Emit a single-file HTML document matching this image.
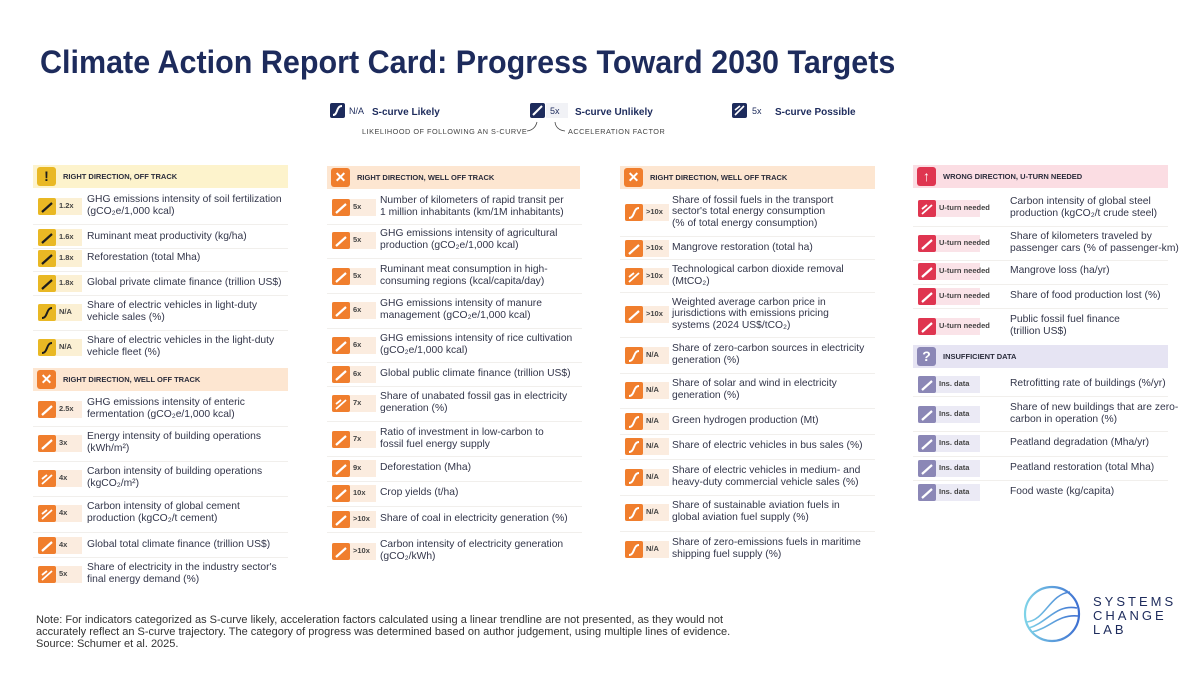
<!DOCTYPE html>
<html><head><meta charset="utf-8"><style>
html,body{margin:0;padding:0;background:#fff;}
#root{position:relative;width:1200px;height:675px;overflow:hidden;background:#fff;font-family:"Liberation Sans",sans-serif;color:#2b2d3c;}
.abs{position:absolute;}
.title{left:40px;top:44px;font-size:32px;font-weight:bold;color:#1d2b5c;white-space:nowrap;transform-origin:0 0;}
.hdr{position:absolute;height:23px;}
.hdr .t{position:absolute;left:30px;top:7px;font-size:7.5px;font-weight:bold;color:#2b2d3c;}
.hdr .ic{position:absolute;left:4px;top:2px;width:19px;height:19px;border-radius:3px;color:#fff;font-weight:bold;font-size:14px;text-align:center;line-height:19px;}
.row{position:absolute;}
.row .txt{position:absolute;font-size:10.3px;line-height:11.6px;color:#33364a;white-space:nowrap;}
.row .bg{position:absolute;height:14px;}
.row .val{position:absolute;font-size:7.5px;font-weight:bold;color:#444;white-space:nowrap;}
.sep{position:absolute;height:1px;background:#f1efec;}
.note{left:36px;top:614px;font-size:11px;line-height:12px;color:#333;white-space:nowrap;}
</style></head><body>
<div id="root">
<div class="abs title" id="title">Climate Action Report Card: Progress Toward 2030 Targets</div>

<svg class="abs" style="left:0;top:0" width="1200" height="160">
<g>
<rect x="330" y="103" width="15" height="15" rx="2" fill="#1d2b5c"/><path d="M333 115 C338 115 336 106 342 106" stroke="#fff" stroke-width="2" fill="none"/>
<text x="349" y="114" font-size="9" fill="#1d2b5c">N/A</text>
<text x="372" y="115" font-size="10" font-weight="bold" fill="#1d2b5c">S-curve Likely</text></g>
<g>
<rect x="530" y="103" width="15" height="15" rx="2" fill="#1d2b5c"/><path d="M533 115 L542 106" stroke="#fff" stroke-width="2"/>
<rect x="546" y="103" width="22" height="15" fill="#f1f2f6"/>
<text x="550" y="114" font-size="9" fill="#1d2b5c">5x</text>
<text x="575" y="115" font-size="10" font-weight="bold" fill="#1d2b5c">S-curve Unlikely</text></g>
<g>
<rect x="732" y="103" width="15" height="15" rx="2" fill="#1d2b5c"/><path d="M735 115 L744 106 M735 110 L740 106" stroke="#fff" stroke-width="1.6"/>
<text x="752" y="114" font-size="9" fill="#1d2b5c">5x</text>
<text x="775" y="115" font-size="10" font-weight="bold" fill="#1d2b5c">S-curve Possible</text></g>
<text x="362" y="134" font-size="7.3" fill="#444" letter-spacing="0.5">LIKELIHOOD OF FOLLOWING AN S-CURVE</text>
<path d="M527 131 Q535 130 537 122" stroke="#444" fill="none" stroke-width="0.8"/>
<path d="M565 131 Q556 130 555 122" stroke="#444" fill="none" stroke-width="0.8"/>
<text x="568" y="134" font-size="7.3" fill="#444" letter-spacing="0.5">ACCELERATION FACTOR</text>
</svg>

<div class="abs note">Note: For indicators categorized as S-curve likely, acceleration factors calculated using a linear trendline are not presented, as they would not<br>accurately reflect an S-curve trajectory. The category of progress was determined based on author judgement, using multiple lines of evidence.<br>Source: Schumer et al. 2025.</div>

<svg class="abs" style="left:1020px;top:582px" width="160" height="66">
<defs><linearGradient id="lg" x1="0" x2="1"><stop offset="0" stop-color="#7fd3e8"/><stop offset="1" stop-color="#3d6fd1"/></linearGradient></defs>
<circle cx="32" cy="32" r="27" fill="none" stroke="url(#lg)" stroke-width="2.2"/>
<path d="M7 40 C25 38 30 12 50 10 M9 46 C28 40 36 22 57 26 M12 50 C30 46 38 32 58 34" stroke="url(#lg)" stroke-width="1.6" fill="none"/>
<text x="73" y="24" font-size="13" letter-spacing="3" fill="#1d2b5c">SYSTEMS</text>
<text x="73" y="38" font-size="13" letter-spacing="3" fill="#1d2b5c">CHANGE</text>
<text x="73" y="52" font-size="13" letter-spacing="3" fill="#1d2b5c">LAB</text>
</svg>
</div>
<script>
// Category headers: [x, y, width, label, type]
const headers = [
 [33,165,255,"RIGHT DIRECTION, OFF TRACK","off"],
 [33,368,255,"RIGHT DIRECTION, WELL OFF TRACK","well"],
 [327,166,253,"RIGHT DIRECTION, WELL OFF TRACK","well"],
 [620,166,255,"RIGHT DIRECTION, WELL OFF TRACK","well"],
 [913,165,255,"WRONG DIRECTION, U-TURN NEEDED","wrong"],
 [913,345,255,"INSUFFICIENT DATA","ins"]
];
// Indicator columns
const col1 = [
 [206,"1.2x","off","u",["GHG emissions intensity of soil fertilization","(gCO\u2082e/1,000 kcal)"]],
 [237,"1.6x","off","u",["Ruminant meat productivity (kg/ha)"]],
 [258,"1.8x","off","u",[" Reforestation (total Mha)"]],
 [283,"1.8x","off","u",["Global private climate finance (trillion US$)"]],
 [312,"N/A","off","s",["Share of electric vehicles in light-duty","vehicle sales (%)"]],
 [347,"N/A","off","s",["Share of electric vehicles in the light-duty","vehicle fleet (%)"]],
 [409,"2.5x","well","u",["GHG emissions intensity of enteric","fermentation  (gCO\u2082e/1,000 kcal)"]],
 [443,"3x","well","u",["Energy intensity of building operations","(kWh/m\u00b2)"]],
 [478,"4x","well","p",["Carbon intensity of building operations","(kgCO\u2082/m\u00b2)"]],
 [513,"4x","well","p",["Carbon intensity of global cement","production (kgCO\u2082/t cement)"]],
 [545,"4x","well","u",["Global total climate finance (trillion US$)"]],
 [574,"5x","well","p",["Share of electricity in the industry sector's","final energy demand (%)"]]
];
const col2 = [
 [207,"5x","well","u",["Number of kilometers of rapid transit per","1 million inhabitants (km/1M inhabitants)"]],
 [240,"5x","well","u",["GHG emissions intensity of agricultural","production (gCO\u2082e/1,000 kcal)"]],
 [276,"5x","well","u",["Ruminant meat consumption in high-","consuming regions (kcal/capita/day)"]],
 [310,"6x","well","u",["GHG emissions intensity of manure","management (gCO\u2082e/1,000 kcal)"]],
 [345,"6x","well","u",["GHG emissions intensity of rice cultivation","(gCO\u2082e/1,000 kcal)"]],
 [374,"6x","well","u",["Global public climate finance (trillion US$)"]],
 [403,"7x","well","p",["Share of unabated fossil gas in electricity","generation (%)"]],
 [439,"7x","well","u",["Ratio of investment in low-carbon to","fossil fuel energy supply"]],
 [468,"9x","well","u",["Deforestation (Mha)"]],
 [493,"10x","well","u",["Crop yields (t/ha)"]],
 [519,">10x","well","u",["Share of coal in electricity generation (%)"]],
 [551,">10x","well","u",["Carbon intensity of electricity generation","(gCO\u2082/kWh)"]]
];
const col3 = [
 [212,">10x","well","s",["Share of fossil fuels in the transport","sector's total energy consumption","(% of total energy consumption)"]],
 [248,">10x","well","u",["Mangrove restoration (total ha)"]],
 [276,">10x","well","p",["Technological carbon dioxide removal","(MtCO\u2082)"]],
 [314,">10x","well","u",["Weighted average carbon price in","jurisdictions with emissions pricing","systems (2024 US$/tCO\u2082)"]],
 [355,"N/A","well","s",["Share of zero-carbon sources in electricity","generation (%)"]],
 [390,"N/A","well","s",["Share of solar and wind in electricity","generation (%)"]],
 [421,"N/A","well","s",["Green hydrogen production (Mt)"]],
 [446,"N/A","well","s",["Share of electric vehicles in bus sales (%)"]],
 [477,"N/A","well","s",["Share of electric vehicles in medium- and","heavy-duty commercial vehicle sales (%)"]],
 [512,"N/A","well","s",["Share of sustainable aviation fuels in","global aviation fuel supply (%)"]],
 [549,"N/A","well","s",["Share of zero-emissions fuels in maritime","shipping fuel supply (%)"]]
];
const col4 = [
 [208,"U-turn needed","wrong","p",["Carbon intensity of global steel","production (kgCO\u2082/t crude steel)"]],
 [243,"U-turn needed","wrong","u",["Share of kilometers traveled by","passenger cars (% of passenger-km)"]],
 [271,"U-turn needed","wrong","u",["Mangrove loss (ha/yr)"]],
 [296,"U-turn needed","wrong","u",["Share of food production lost (%)"]],
 [326,"U-turn needed","wrong","u",["Public fossil fuel finance","(trillion US$)"]],
 [384,"Ins. data","ins","u",["Retrofitting rate of buildings (%/yr)"]],
 [414,"Ins. data","ins","u",["Share of new buildings that are zero-","carbon in operation (%)"]],
 [443,"Ins. data","ins","u",["Peatland degradation (Mha/yr)"]],
 [468,"Ins. data","ins","u",["Peatland restoration (total Mha)"]],
 [492,"Ins. data","ins","u",["Food waste (kg/capita)"]]
];
const columnX = [33,327,620,913];
const textX = [87,380,672,1010];

const COL = {off:["#e9b824","#fdf3cc","#fbf0d4","#1d1d1d","!"],
 well:["#f07e2d","#fde6d1","#fbecdf","#fff","\u2715"],
 wrong:["#df3550","#fbdde3","#fae3e8","#fff","\u2191"],
 ins:["#8b87b6","#e6e4f3","#ebeaf5","#fff","?"]};
const root = document.getElementById('root');
const t = document.getElementById('title');
t.style.transform = 'scale(' + (855 / t.scrollWidth) + ',1)';

headers.forEach(h => {
  const c = COL[h[4]];
  const d = document.createElement('div');
  d.className = 'hdr';
  
  
  d.style.left = h[0] + 'px'; d.style.top = h[1] + 'px'; d.style.width = h[2] + 'px';
  d.style.background = c[1];
  d.innerHTML = '<div class="ic" style="background:' + c[0] + ';color:' + (h[4]==='off'?'#1d1d1d':'#fff') + '">' + c[4] + '</div><div class="t">' + h[3] + '</div>';
  root.appendChild(d);
});

function iconSvg(kind, fg, bgc) {
  let p;
  if (kind === 's') p = '<path d="M4 14 C10 14 8 4 14 4" stroke="' + fg + '" stroke-width="2" fill="none"/>';
  else if (kind === 'p') p = '<path d="M4 14 L14 5 M4 9 L9 5" stroke="' + fg + '" stroke-width="1.8" fill="none"/>';
  else p = '<path d="M4 14 L14 5" stroke="' + fg + '" stroke-width="2.2" fill="none"/>';
  return '<svg width="18" height="17" style="position:absolute;left:0;top:0"><rect width="18" height="17" rx="2" fill="' + bgc + '"/>' + p + '</svg>';
}

[col1, col2, col3, col4].forEach((col, ci) => {
  const x0 = columnX[ci], tx = textX[ci];
  col.forEach((r, i) => {
    const c = COL[r[2]];
    const row = document.createElement('div');
    row.className = 'row';
    
    
    row.style.left = '0px'; row.style.top = '0px';
    const by = r[0] - 8;
    const bw = ci === 3 ? 62 : 44;
    const fg = r[2] === 'off' ? '#1d1d1d' : '#fff';
    let html = '<div class="bg" style="left:' + (x0+5) + 'px;top:' + by + 'px;width:' + bw + 'px;background:' + c[2] + ';height:17px"></div>';
    html += '<div style="position:absolute;left:' + (x0+5) + 'px;top:' + by + 'px">' + iconSvg(r[3], fg, c[0]) + '</div>';
    html += '<div class="val" style="left:' + (x0+26) + 'px;top:' + (r[0]-5) + 'px">' + r[1] + '</div>';
    const n = r[4].length;
    const ty = r[0] - n * 11.6 / 2;
    html += '<div class="txt" style="left:' + tx + 'px;top:' + ty + 'px">' + r[4].join('<br>') + '</div>';
    const next = col[i+1];
    if (next && next[2] === r[2]) {
      const sy = Math.round((r[0] + n*5.8 + next[0] - next[4].length*5.8) / 2);
      html += '<div class="sep" style="left:' + x0 + 'px;top:' + sy + 'px;width:255px"></div>';
    }
    row.innerHTML = html;
    root.appendChild(row);
  });
});
</script>
</body></html>
